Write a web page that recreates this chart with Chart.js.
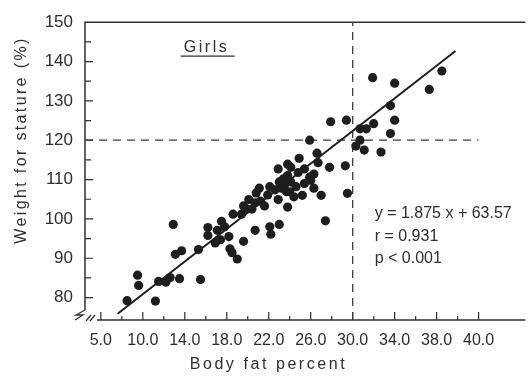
<!DOCTYPE html>
<html><head><meta charset="utf-8">
<script src="https://cdn.jsdelivr.net/npm/chart.js@4.4.1/dist/chart.umd.min.js"></script>
<style>html,body{margin:0;padding:0;background:#fff}#w{width:530px;height:377px}</style>
</head><body><div id="w"><canvas id="c" width="530" height="377"></canvas></div>
<script>
// ---- data ----
const bodyFat = [8.5,9.5,9.6,11.2,11.5,12.2,12.6,13.5,12.9,13.1,13.7,15.3,15.5,16.2,16.2,17.1,16.9,17.4,17.5,17.8,18.2,18.3,18.5,19.0,18.6,19.6,19.4,19.6,20.1,20.4,20.7,20.7,21.2,21.1,21.6,21.9,22.1,22.1,22.2,23.0,22.6,22.9,23.0,22.9,23.5,23.8,23.8,24.1,23.7,23.8,24.8,25.4,25.9,26.3,26.7,23.4,24.1,24.6,25.4,26.0,23.2,24.0,24.9,25.9,26.6,27.8,29.3,29.5,27.0,26.3,25.2,27.4,27.9,29.4,30.7,31.3,32.0,30.7,30.3,31.1,32.7,33.6,34.0,33.6,31.9,34.0,38.5,37.3,19.9,20.8,24.4];
const weightForStature = [79.2,85.7,83.1,79.1,84.1,83.9,85.1,84.8,98.6,91.0,91.9,92.2,84.6,97.8,95.8,97.1,93.9,94.7,99.4,98.0,95.5,92.4,91.4,89.8,101.2,94.3,101.2,103.3,104.9,102.5,104.1,97.1,104.5,107.8,103.3,106.1,108.2,98.0,96.1,98.6,107.4,104.9,109.4,112.7,108.6,103.0,111.0,113.1,106.9,113.9,111.8,112.7,110.6,111.4,114.3,110.2,109.4,108.2,109.0,109.8,107.8,106.9,115.4,120.0,116.7,113.1,113.5,106.5,106.0,107.8,106.0,99.5,124.7,125.1,122.9,122.9,124.2,120.0,118.5,117.5,117.0,121.7,125.1,128.8,135.9,134.5,137.6,132.9,102.5,106.6,105.6];
const fitLineX = [7.6, 39.8];
const fitLineY = [75.9, 142.7];
const cutoffX = 30;
const cutoffY = 120;
const cutoffYEndX = 42;
const xRange = [4.49, 46.46];
const yRange = [74.3, 150];
const xTickValues = [6,10,14,18,22,26,30,34,38,42];
const xTickLabels = ["5.0","10.0","14.0","18.0","22.0","26.0","30.0","34.0","38.0","40.0"];
const xMinorTicks = [8,12,16,20,24,28,32,36,40];
const yTickValues = [80,90,100,110,120,130,140,150];
const yTickLabels = ["80","90","100","110","120","130","140","150"];
const yMinorTicks = [85,95,105,115,125,135,145];
const xTitle = "Body fat percent";
const yTitle = "Weight for stature (%)";
const groupLabel = "Girls";
const statLines = ["y = 1.875 x + 63.57", "r = 0.931", "p < 0.001"];

// ---- build ----
const points = bodyFat.map((x,i)=>({x, y: weightForStature[i]}));
const fitLine = fitLineX.map((x,i)=>({x, y: fitLineY[i]}));
const vDash = [{x: cutoffX, y: yRange[0]}, {x: cutoffX, y: yRange[1]}];
const hDash = [{x: xRange[0], y: cutoffY}, {x: cutoffYEndX, y: cutoffY}];

const INK = '#2e2e2e';
const FONT = '"Liberation Sans", Arial, sans-serif';

function spacedText(ctx, text, x, y, target, align){
  ctx.letterSpacing = '0px';
  const w0 = ctx.measureText(text).width;
  const sp = Math.max(0, (target - w0) / Math.max(1, text.length - 1));
  ctx.letterSpacing = sp + 'px';
  const w = w0 + sp * (text.length - 1);
  let sx = x;
  if (align === 'center') sx = x - w / 2;
  ctx.textAlign = 'left';
  ctx.fillText(text, sx, y);
  ctx.letterSpacing = '0px';
  return {sx, w};
}

const decor = {
  id: 'decor',
  beforeDatasetsDraw(chart){
    const {ctx, chartArea: a, scales: {x, y}} = chart;
    ctx.save();
    ctx.strokeStyle = '#303030';
    ctx.lineWidth = 1.5;
    ctx.beginPath();
    ctx.moveTo(a.left, a.bottom - 10); ctx.lineTo(a.left, a.top); ctx.lineTo(a.right, a.top);
    ctx.moveTo(a.left + 12, a.bottom); ctx.lineTo(a.right, a.bottom);
    ctx.stroke();
    ctx.lineWidth = 1.2;
    ctx.beginPath();
    yTickValues.forEach(v => { if (v < yRange[1]) { const p = y.getPixelForValue(v); ctx.moveTo(a.left, p); ctx.lineTo(a.left + 8, p); } });
    yMinorTicks.forEach(v => { const p = y.getPixelForValue(v); ctx.moveTo(a.left, p); ctx.lineTo(a.left + 6, p); });
    xTickValues.forEach(v => { const p = x.getPixelForValue(v); ctx.moveTo(p, a.bottom); ctx.lineTo(p, a.bottom - 8); });
    xMinorTicks.forEach(v => { const p = x.getPixelForValue(v); ctx.moveTo(p, a.bottom); ctx.lineTo(p, a.bottom - 4); });
    ctx.stroke();
    // axis break marks
    ctx.lineWidth = 1.3;
    ctx.beginPath();
    ctx.moveTo(a.left, a.bottom - 10); ctx.lineTo(a.left - 9, a.bottom - 5); ctx.lineTo(a.left - 2, a.bottom - 5); ctx.lineTo(a.left - 10, a.bottom);
    ctx.moveTo(a.left + 1, a.bottom + 1); ctx.lineTo(a.left + 6, a.bottom - 5);
    ctx.moveTo(a.left + 5, a.bottom + 1); ctx.lineTo(a.left + 10, a.bottom - 5);
    ctx.stroke();
    ctx.restore();
  },
  afterDraw(chart){
    const {ctx, chartArea: a, scales: {x, y}} = chart;
    ctx.save();
    ctx.fillStyle = INK;
    ctx.textBaseline = 'alphabetic';
    // axis titles
    ctx.font = '16px ' + FONT;
    spacedText(ctx, xTitle, (a.left + a.right) / 2 - 38, a.bottom + 49, 155, 'center');
    ctx.save();
    ctx.translate(26, a.top + 119);
    ctx.rotate(-Math.PI / 2);
    spacedText(ctx, yTitle, 0, 0, 205, 'center');
    ctx.restore();
    // group label
    ctx.font = '16px ' + FONT;
    const gx = x.getPixelForValue(13.9), gy = y.getPixelForValue(142.4);
    const g = spacedText(ctx, groupLabel, gx, gy, 43, 'left');
    ctx.strokeStyle = INK; ctx.lineWidth = 1.3;
    ctx.beginPath(); ctx.moveTo(g.sx - 3, gy + 4); ctx.lineTo(g.sx + g.w + 8, gy + 4); ctx.stroke();
    // statistics
    const sx = x.getPixelForValue(32.1);
    const sy = [100.3, 94.4, 88.8];
    statLines.forEach((t, i) => { ctx.fillText(t, sx, y.getPixelForValue(sy[i])); });
    ctx.restore();
  }
};

new Chart(document.getElementById('c'), {
  type: 'scatter',
  data: {
    datasets: [
      {label: 'Girls', data: points, pointRadius: 4.6, pointBackgroundColor: '#1e1e1e', pointBorderWidth: 0, showLine: false, order: 2},
      {label: 'Regression', data: fitLine, showLine: true, pointRadius: 0, borderColor: '#1e1e1e', borderWidth: 2, order: 1},
      {label: 'Cutoff x', data: vDash, showLine: true, pointRadius: 0, borderColor: '#3a3a3a', borderWidth: 1.3, borderDash: [8, 6], order: 3},
      {label: 'Cutoff y', data: hDash, showLine: true, pointRadius: 0, borderColor: '#3a3a3a', borderWidth: 1.3, borderDash: [8, 6], order: 3}
    ]
  },
  options: {
    responsive: false,
    devicePixelRatio: 1,
    animation: false,
    layout: {padding: {top: 12, right: 0, left: 0, bottom: 0}},
    plugins: {legend: {display: false}, tooltip: {enabled: false}},
    scales: {
      x: {
        type: 'linear', min: xRange[0], max: xRange[1],
        grid: {display: false, drawTicks: false},
        border: {display: false},
        afterBuildTicks: s => { s.ticks = xTickValues.map(v => ({value: v})); },
        afterFit: s => { s.height = 57; },
        ticks: {padding: 11, color: INK, font: {family: FONT, size: 16}, maxRotation: 0, autoSkip: false,
          callback: v => { const i = xTickValues.indexOf(v); return i >= 0 ? xTickLabels[i] : ''; }}
      },
      y: {
        type: 'linear', min: yRange[0], max: yRange[1],
        grid: {display: false, drawTicks: false},
        border: {display: false},
        afterBuildTicks: s => { s.ticks = yTickValues.map(v => ({value: v})); },
        afterFit: s => { s.width = 85; },
        ticks: {padding: 12, color: INK, font: {family: FONT, size: 17}, autoSkip: false,
          callback: v => { const i = yTickValues.indexOf(v); return i >= 0 ? yTickLabels[i] : ''; }}
      }
    }
  },
  plugins: [decor]
});
</script>
</body></html>
